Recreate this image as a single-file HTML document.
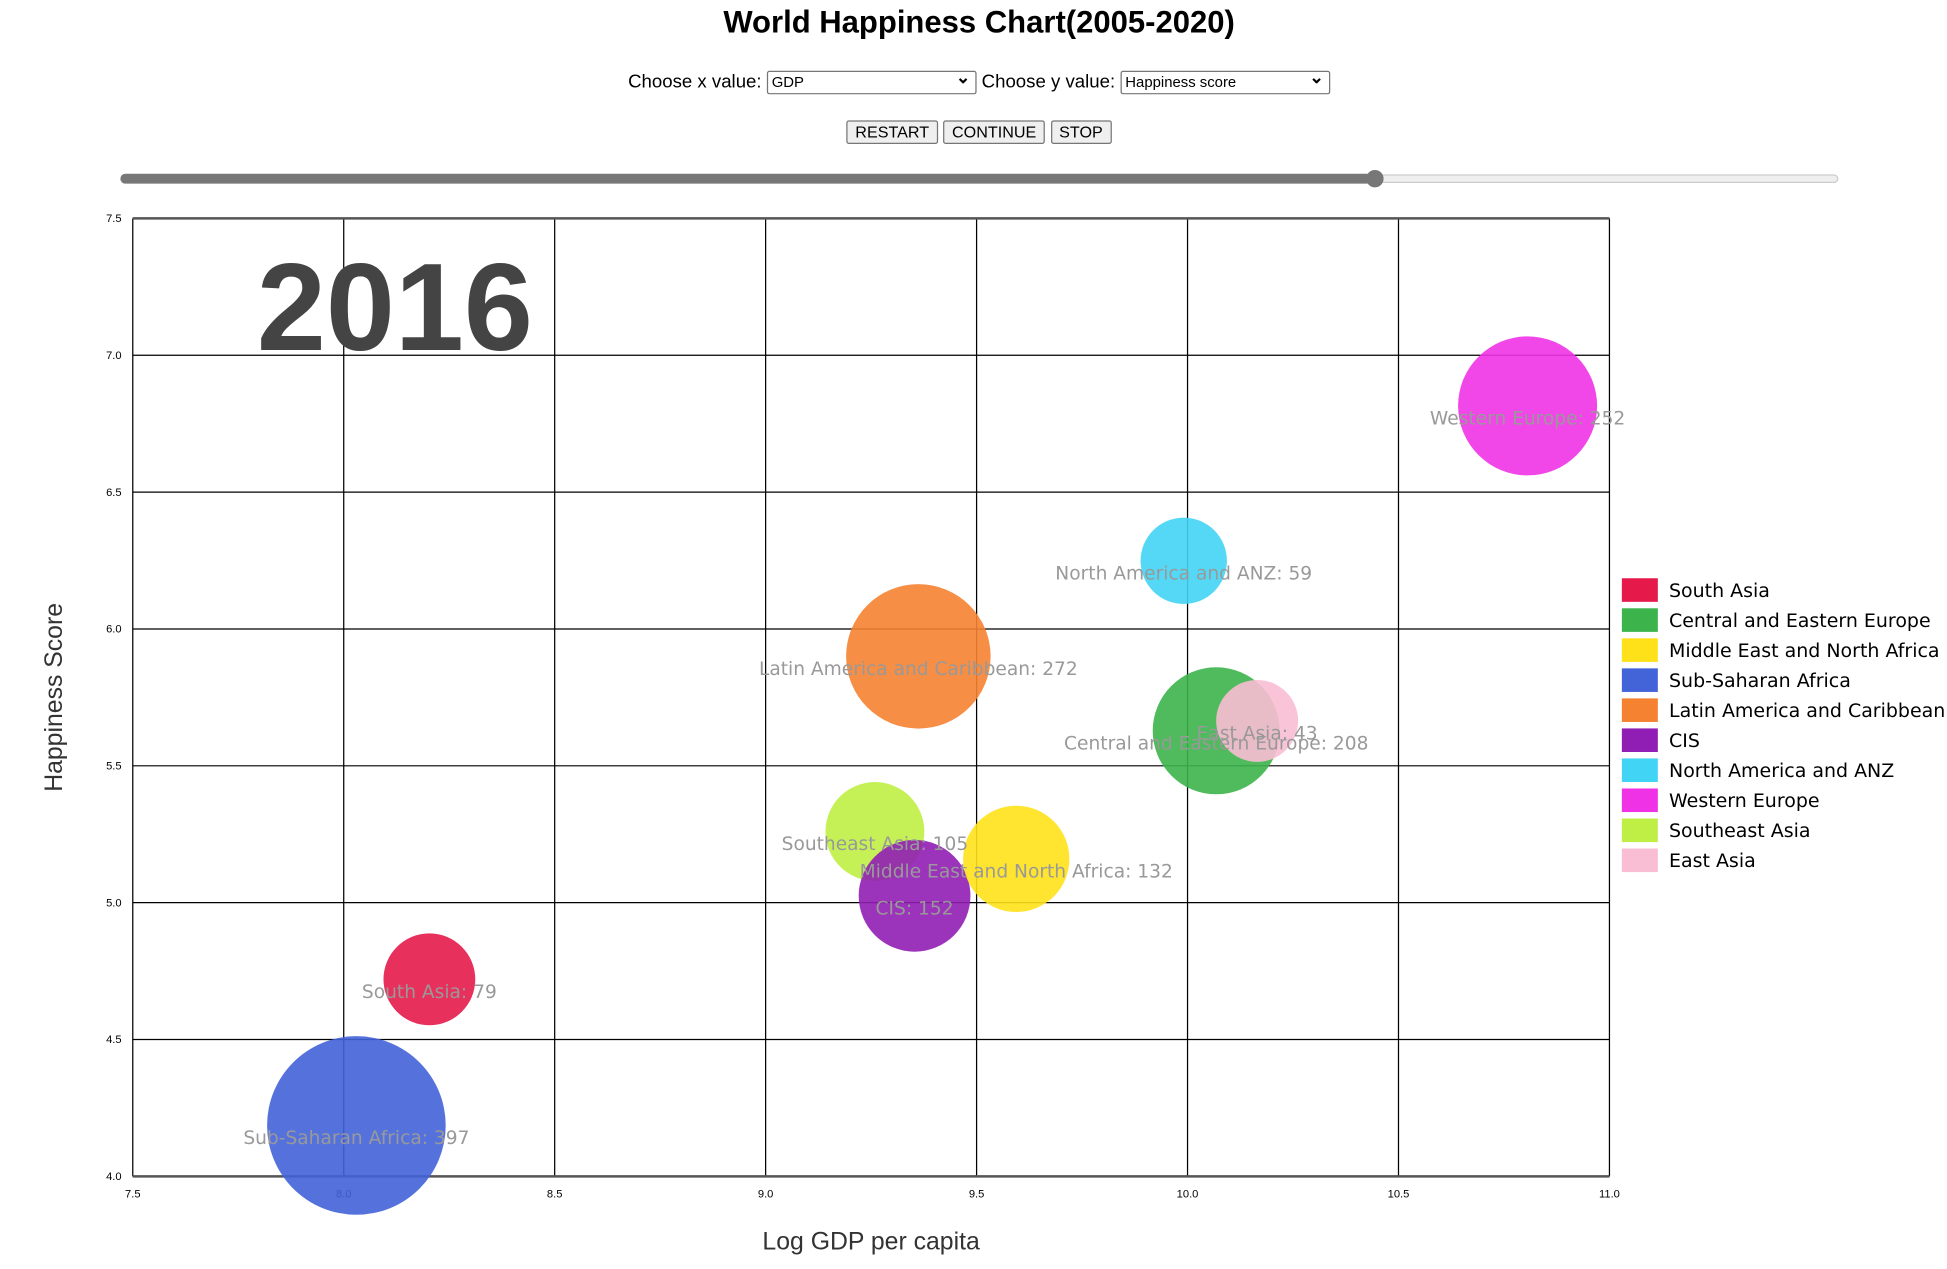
<!DOCTYPE html>
<html><head><meta charset="utf-8">
<style>
html,body{margin:0;padding:0;background:#fff;width:1947px;height:1269px;overflow:hidden}
#wrap{position:absolute;left:0;top:0;width:1569px;height:1023px;transform:scale(1.2409);transform-origin:0 0;font-family:"Liberation Sans",sans-serif}
h1{position:absolute;left:0;width:1578px;top:4px;margin:0;text-align:center;font-size:25px;font-weight:bold}
.ctl{position:absolute;top:57px;left:0;width:1578px;text-align:center;font-size:15px}
.sel{display:inline-block;border:1px solid #767676;border-radius:2px;height:17px;font-size:12px;text-align:left;vertical-align:middle;position:relative;padding-left:3px;line-height:17px}
.sel:after{content:"⌄";position:absolute;right:4px;top:-4px;font-size:14px;font-weight:bold}
.btns{position:absolute;top:97px;left:0;width:1578px;text-align:center}
.btn{display:inline-block;border:1px solid #767676;background:#efefef;font-size:13px;padding:1px 6px;border-radius:2px}
</style></head><body>
<div id="wrap">
<h1>World Happiness Chart(2005-2020)</h1>
<div class="ctl">
<span>Choose x value:</span>
<span class="sel" style="width:164px">GDP</span>
<span>Choose y value:</span>
<span class="sel" style="width:164px">Happiness score</span>
</div>
<div class="btns">
<span class="btn">RESTART</span>
<span class="btn">CONTINUE</span>
<span class="btn">STOP</span>
</div>
<svg id="chart" width="1569" height="1023" style="position:absolute;left:0;top:0"></svg>
</div>
<script>
const regions=["South Asia","Central and Eastern Europe","Middle East and North Africa","Sub-Saharan Africa","Latin America and Caribbean","CIS","North America and ANZ","Western Europe","Southeast Asia","East Asia"];
const colors=["#e6194b","#3cb44b","#ffe119","#4363d8","#f58231","#911eb4","#42d4f4","#f032e6","#bfef45","#fabed4"];
const gdp=[8.203,10.068,9.594,8.03,9.362,9.353,9.991,10.806,9.259,10.165];
const happiness=[4.72,5.628,5.16,4.186,5.90,5.025,6.249,6.815,5.26,5.664];
const counts=[79,208,132,397,272,152,59,252,105,43];
const xTicks=[7.5,8.0,8.5,9.0,9.5,10.0,10.5,11.0];
const yTicks=[4.0,4.5,5.0,5.5,6.0,6.5,7.0,7.5];
const drawOrder=[0,1,3,4,8,5,2,6,7,9];
const NS="http://www.w3.org/2000/svg";
const svg=document.getElementById('chart');
const X0=107,X1=1297,Y0=948,Y1=176;
const xs=v=>X0+(v-7.5)/(11-7.5)*(X1-X0);
const ys=v=>Y0-(v-4)/(7.5-4)*(Y0-Y1);
const rs=v=>28.3+0.110*v;
function mk(t,a,p){const e=document.createElementNS(NS,t);for(const k in a)e.setAttribute(k,a[k]);(p||svg).appendChild(e);return e;}
const sl=mk('g',{});


mk('rect',{x:1108,y:141,width:373,height:6,rx:3,fill:'#efefef',stroke:'#ccc'},sl);
mk('rect',{x:97,y:140,width:1011,height:8,rx:4,fill:'#777'},sl);
mk('ellipse',{cx:1108,cy:144,rx:7,ry:7,fill:'#777'},sl);
xTicks.forEach(t=>{
 const l=mk('line',{x1:xs(t),x2:xs(t),y1:Y1,y2:Y0,stroke:'#000','stroke-width':1});
 
 
 const tx=mk('text',{x:xs(t),y:Y0+17,'text-anchor':'middle','font-size':9,fill:'#000'});
 tx.textContent=t.toFixed(1);
 
 
});
yTicks.forEach(t=>{
 const l=mk('line',{x1:X0,x2:X1,y1:ys(t),y2:ys(t),stroke:'#000','stroke-width':1});
 
 
 const tx=mk('text',{x:X0-9,y:ys(t)+3,'text-anchor':'end','font-size':9,fill:'#000'});
 tx.textContent=t.toFixed(1);
 
 
});
mk('line',{x1:X0,x2:X1,y1:Y0,y2:Y0,stroke:'#555','stroke-width':2});
mk('line',{x1:X0,x2:X1,y1:Y1,y2:Y1,stroke:'#555','stroke-width':2});
const yr=mk('text',{x:207,y:282,'font-size':100,'font-weight':'bold',fill:'#444'});
yr.textContent='2016';


drawOrder.forEach(i=>{
 const c=mk('circle',{cx:xs(gdp[i]),cy:ys(happiness[i]),r:rs(counts[i]),fill:colors[i],'fill-opacity':0.9});
 
 
});
drawOrder.forEach(i=>{
 const t=mk('text',{x:xs(gdp[i]),y:ys(happiness[i])+15,'text-anchor':'middle','font-size':15,fill:'#999','font-family':'"DejaVu Sans",sans-serif'});
 t.textContent=regions[i]+': '+counts[i];
 
 
});
const xt=mk('text',{x:702,y:1007,'text-anchor':'middle','font-size':20,fill:'#333'});
xt.textContent='Log GDP per capita';


const yt=mk('text',{x:0,y:0,'text-anchor':'middle','font-size':20,fill:'#333',transform:'translate(50,562) rotate(-90)'});
yt.textContent='Happiness Score';


regions.forEach((r,i)=>{
 const g=mk('g',{});
 
 
 mk('rect',{x:1307,y:466+i*24.2,width:29,height:19,fill:colors[i]},g);
 const t=mk('text',{x:1345,y:481+i*24.2,'font-size':15.3,fill:'#000','font-family':'"DejaVu Sans",sans-serif'},g);
 t.textContent=r;
});
</script>
</body></html>
